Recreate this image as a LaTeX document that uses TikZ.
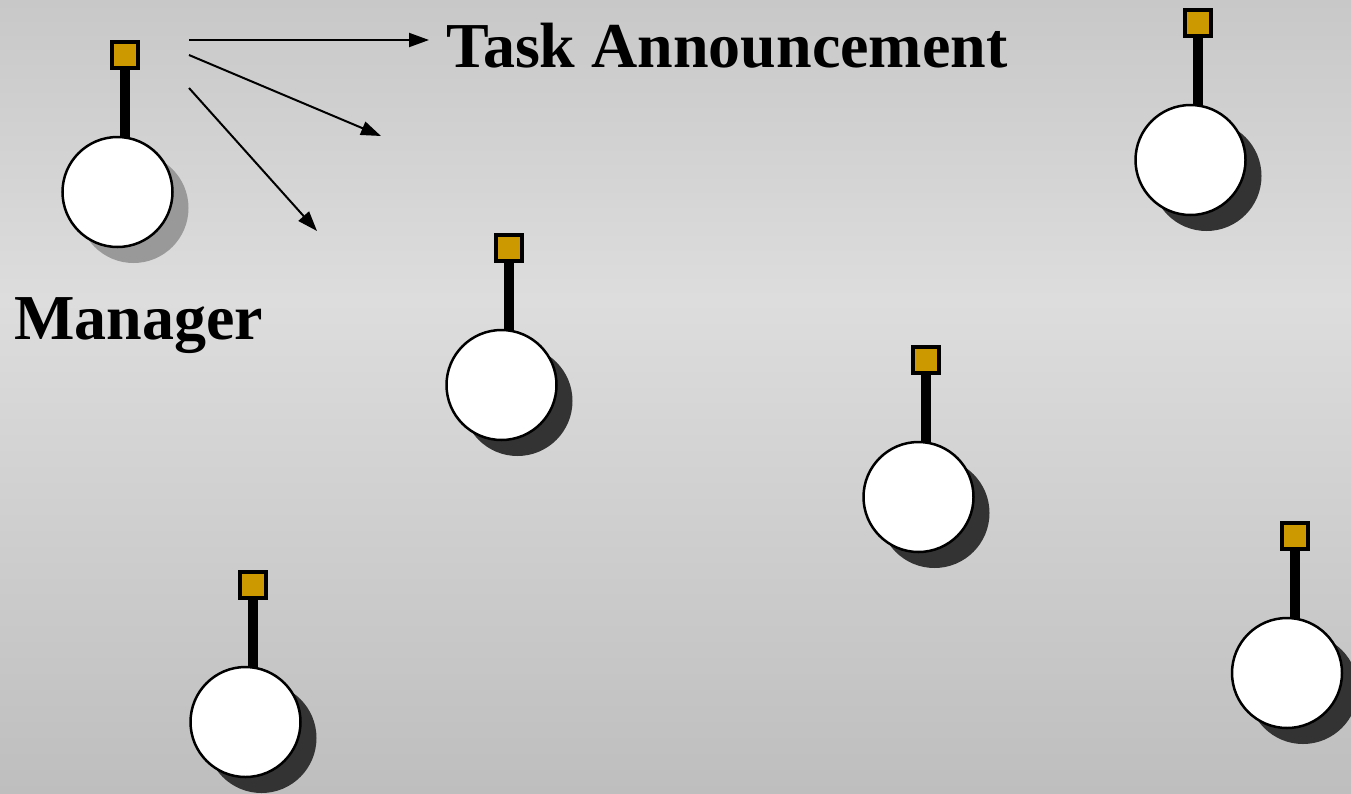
\documentclass[tikz,border=0pt]{standalone}
\usepackage{fontspec}
\setmainfont{Liberation Serif}
\usetikzlibrary{arrows.meta,calc}

\pgfdeclarelayer{backdrop}
\pgfdeclarelayer{behind}
\pgfsetlayers{backdrop,behind,main}

\definecolor{bgtop}{HTML}{C8C8C8}
\definecolor{bgmid}{HTML}{DDDDDD}
\definecolor{bgbot}{HTML}{BEBEBE}
\definecolor{portgold}{HTML}{CC9900}

\tikzset{
  agent shadow/.style={fill=black!80},
  agent body/.style={circle, draw=black, line width=2.5pt, fill=white,
                     minimum size=110pt, inner sep=0pt},
  agent port/.style={rectangle, draw=black, line width=4pt, fill=portgold,
                     minimum size=26pt, inner sep=0pt},
  agent stick/.style={draw=black, line width=10pt},
  announce/.style={draw=black, line width=2pt,
                   -{Triangle[length=20pt,width=14pt]}},
  label text/.style={font=\bfseries\fontsize{64}{70}\selectfont,
                     inner sep=0pt, anchor=base west},
  pics/agent/.style={code={
    \node[agent port] (-port) at (0,0) {};
    \node[agent body] (-body) at (-7.5,137) {};
    \begin{pgfonlayer}{behind}
      \path[agent shadow] ($(-body.center)+(16,16)$) circle (55pt);
      \draw[agent stick] (-port.south) -- (-port.south |- -body.center);
    \end{pgfonlayer}
  }},
}

\begin{document}
\begin{tikzpicture}[x=1pt, y=-1pt]
  \useasboundingbox (0,0) rectangle (1351,793);

  % graded backdrop: lightest band a little above the middle
  \begin{pgfonlayer}{backdrop}
    \shade[top color=bgtop, bottom color=bgmid] (0,0) rectangle (1351,300);
    \shade[top color=bgmid, bottom color=bgbot] (0,299.5) rectangle (1351,793);
  \end{pgfonlayer}

  % the manager and the contractors
  \pic[agent shadow/.style={fill=black!40}] (mgr) at (125,55) {agent};
  \pic (a1) at (1198,23)  {agent};
  \pic (a2) at (509,248)  {agent};
  \pic (a3) at (926,360)  {agent};
  \pic (a4) at (253,585)  {agent};
  \pic (a5) at (1294.5,536) {agent};

  % labels
  \node[label text] (ttl) at (446,67) {Task Announcement};
  \node[label text] (mlb) at (14,339) {Manager};

  % broadcast arrows leaving the manager
  \coordinate (s1) at (189,40);
  \coordinate (s2) at (189,55);
  \coordinate (s3) at (189,88);
  \coordinate (e1) at (429,40);
  \coordinate (e2) at (381,136);
  \coordinate (e3) at (317,231);
  \draw[announce] (s1) -- (e1);
  \draw[announce] (s2) -- (e2);
  \draw[announce] (s3) -- (e3);
\end{tikzpicture}
\end{document}
